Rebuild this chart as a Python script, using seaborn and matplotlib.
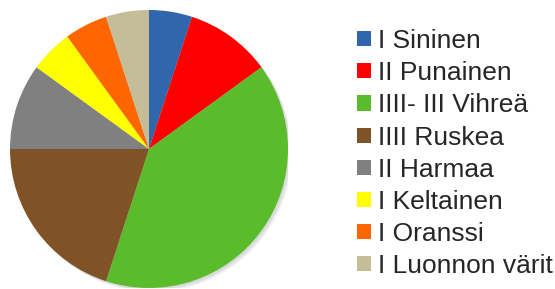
import matplotlib
matplotlib.use("Agg")
import matplotlib.pyplot as plt
from matplotlib.patches import Patch, Circle
import seaborn as sns

labels = ["I Sininen", "II Punainen", "IIII- III Vihreä", "IIII Ruskea",
          "II Harmaa", "I Keltainen", "I Oranssi", "I Luonnon värit"]
values = [5, 10, 40, 20, 10, 5, 5, 5]
colors = ["#2F66AC", "#FF0000", "#5BBC2B", "#7F5325",
          "#808080", "#FFFF00", "#FF6600", "#C4BD97"]

sns.set_style("white")
plt.rcParams['font.family'] = ['Liberation Sans', 'DejaVu Sans']
palette = sns.color_palette(colors)

W, H = 555, 289
fig = plt.figure(figsize=(W / 100, H / 100), dpi=100)
cx, cy, r = 149, 149, 139
ax = fig.add_axes([(cx - r) / W, (H - cy - r) / H, 2 * r / W, 2 * r / H])
ax.set_axis_off()

# soft shadow
for i, a in enumerate([0.05, 0.05, 0.05]):
    ax.add_patch(Circle((0.012 + 0.008 * i, -0.012 - 0.008 * i), 1.0,
                        color="black", alpha=a, lw=0, zorder=0))

wedges, _ = ax.pie(values, colors=palette, startangle=90, counterclock=False,
                   radius=1.0, wedgeprops=dict(linewidth=0))
for w in wedges:
    w.set_zorder(2)
ax.set_xlim(-1, 1)
ax.set_ylim(-1, 1)
ax.set_aspect("equal")

handles = [Patch(facecolor=c, edgecolor="none") for c in palette]
fs = 19
leg = fig.legend(handles, labels, loc="upper left",
                 bbox_to_anchor=(357 / W, 1 - 29 / H),
                 frameon=False, fontsize=fs, borderpad=0, borderaxespad=0,
                 handlelength=0.53, handleheight=0.5, handletextpad=0.27,
                 labelspacing=0.31)

fig.savefig("out.png", dpi=100)
